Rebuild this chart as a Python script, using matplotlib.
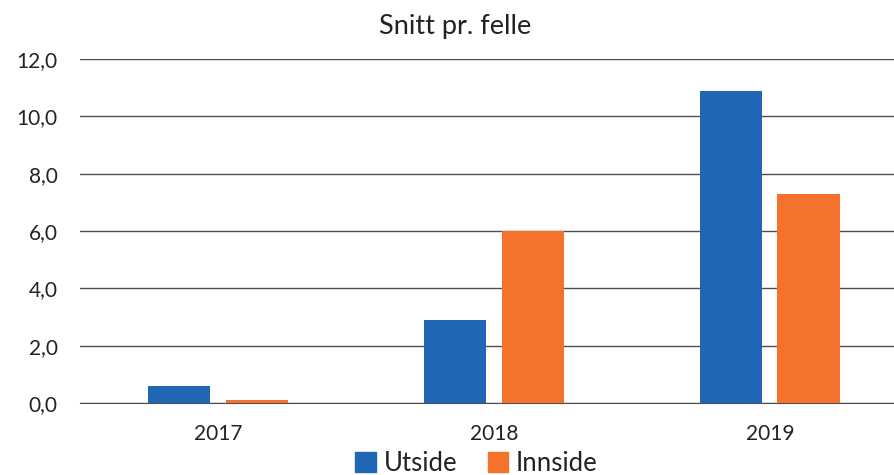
import matplotlib
matplotlib.use('Agg')
import matplotlib.pyplot as plt
from matplotlib.patches import Patch
import numpy as np

# data
years = ['2017', '2018', '2019']
utside = [0.6, 2.9, 10.9]
innside = [0.1, 6.0, 7.3]
yticks = [0, 2, 4, 6, 8, 10, 12]

blue = '#1f67b4'
orange = '#f4722b'

plt.rcParams['font.family'] = ['Lato', 'DejaVu Sans']

fig = plt.figure(figsize=(8.94, 4.75), dpi=100)
ax = fig.add_axes([0.0895, 0.1516, 0.926, 0.7242])

x = np.arange(len(years))
w = 0.225
ax.bar(x - 0.14, utside, w, color=blue, zorder=3)
ax.bar(x + 0.14, innside, w, color=orange, zorder=3)

ax.set_xlim(-0.5, 2.5)
ax.set_ylim(0, 12)
ax.set_yticks(yticks)
ax.set_yticklabels([f'{v:.1f}'.replace('.', ',') for v in yticks], fontsize=15, color='#222222')
ax.set_xticks(x)
ax.set_xticklabels(years, fontsize=15, color='#222222')
ax.tick_params(axis='both', length=0)
ax.tick_params(axis='y', pad=16)
ax.tick_params(axis='x', pad=15)

ax.grid(axis='y', color='#505050', linewidth=1.0, zorder=0)
for s in ['left', 'right', 'top']:
    ax.spines[s].set_visible(False)
ax.spines['bottom'].set_color('#505050')
ax.set_axisbelow(True)

fig.text(0.509, 0.945, 'Snitt pr. felle', ha='center', va='center', fontsize=19.5, color='#222222')

handles = [Patch(color=blue, label='Utside'), Patch(color=orange, label='Innside')]
fig.legend(handles=handles, loc='center', bbox_to_anchor=(0.533, 0.025), ncol=2, frameon=False,
           fontsize=18.5, handlelength=0.8, handleheight=0.8, handletextpad=0.3, columnspacing=1.2,
           labelcolor='#222222')

fig.savefig('out.png', dpi=100)
